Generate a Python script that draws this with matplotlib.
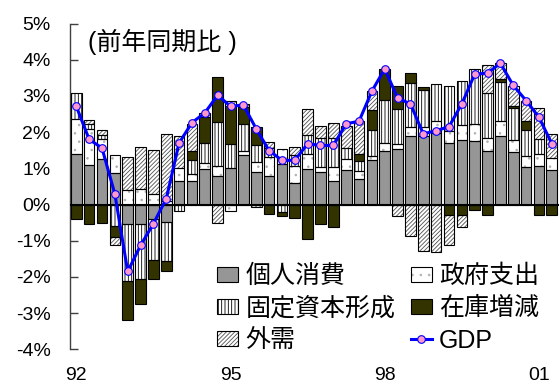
import numpy as np
import matplotlib
matplotlib.use("Agg")
import matplotlib.pyplot as plt
from matplotlib.patches import Patch
from matplotlib.lines import Line2D
from matplotlib.legend_handler import HandlerTuple

plt.rcParams['font.family'] = ['Liberation Sans', 'Noto Sans CJK JP']
plt.rcParams['hatch.linewidth'] = 0.6

# 実質GDP成長率（前年同期比）と需要項目別寄与度, 1992Q1-2001Q2
quarters = ['92Q1', '92Q2', '92Q3', '92Q4', '93Q1', '93Q2', '93Q3', '93Q4',
            '94Q1', '94Q2', '94Q3', '94Q4', '95Q1', '95Q2', '95Q3', '95Q4',
            '96Q1', '96Q2', '96Q3', '96Q4', '97Q1', '97Q2', '97Q3', '97Q4',
            '98Q1', '98Q2', '98Q3', '98Q4', '99Q1', '99Q2', '99Q3', '99Q4',
            '00Q1', '00Q2', '00Q3', '00Q4', '01Q1', '01Q2']

consumption = [1.40, 1.08, 1.27, 0.87, -0.55, -0.53, -0.40, -0.49,
               0.64, 0.65, 0.99, 0.80, 1.00, 1.36, 0.89, 0.80,
               1.12, 0.60, 0.99, 0.89, 0.66, 0.96, 0.71, 1.22,
               1.49, 1.54, 1.88, 1.88, 1.97, 1.69, 1.79, 1.75,
               1.49, 1.88, 1.45, 1.03, 1.05, 0.96]
government = [0.97, 1.00, 0.55, 0.51, 0.40, 0.43, 0.28, 0.10,
              0.37, 0.20, 0.17, 0.25, -0.18, 0.12, 0.28, 0.50,
              0.42, 0.45, 0.40, 0.14, 0.37, 0.30, 0.21, 0.11,
              0.20, 0.14, 0.26, 0.26, 0.35, 0.35, 0.40, 0.46,
              0.35, 0.44, 0.32, 0.32, 0.35, 0.33]
investment = [0.72, 0.13, 0.10, -0.60, -1.57, -1.53, -1.13, -1.08,
              -0.18, 0.39, 0.54, 1.24, 0.67, 0.74, 0.46, 0.25,
              -0.21, 0.32, 0.52, 0.80, 0.81, 0.30, 0.28, 0.74,
              1.20, 0.97, 1.22, 1.01, 1.01, 1.22, 1.22, 1.54,
              1.23, 1.06, 0.90, 0.71, 0.41, 0.00]
inventory = [-0.40, -0.55, -0.52, -0.30, -1.06, -0.68, -0.52, -0.26,
             0.00, 0.25, 0.72, 1.24, 1.04, 0.47, 0.52, -0.26,
             -0.10, -0.38, -0.95, -0.55, -0.63, 0.00, 0.20, 0.55,
             0.86, 0.62, 0.26, 0.09, 0.00, -0.28, -0.28, -0.15,
             -0.28, 0.09, 0.06, 0.26, -0.28, -0.28]
net_exports = [0.00, 0.13, 0.15, -0.21, 0.90, 1.15, 1.23, 1.85,
               0.89, 0.74, 0.10, -0.52, 0.14, 0.08, -0.07, 0.17,
               0.00, 0.21, 0.72, 0.35, 0.41, 0.62, 0.92, 0.52,
               0.00, -0.33, -0.86, -1.29, -1.32, -0.83, -0.35, 0.00,
               0.79, 0.43, 0.55, 0.55, 0.86, 0.66]
gdp = [2.71, 1.80, 1.56, 0.29, -1.85, -1.13, -0.53, 0.16,
       1.70, 2.26, 2.53, 3.02, 2.71, 2.75, 2.09, 1.49,
       1.22, 1.22, 1.68, 1.63, 1.63, 2.23, 2.30, 3.13,
       3.75, 2.94, 2.78, 1.95, 2.04, 2.15, 2.78, 3.60,
       3.63, 3.90, 3.29, 2.87, 2.41, 1.68]

tick_pos = [0, 12, 24, 36]
tick_labels = ['92', '95', '98', '01']
yticks = list(range(-4, 6))

# 系列ごとの塗り: (値, 名前, 地の色, ハッチ色, ハッチ)
series = [
    (consumption, '個人消費', '#969696', '#969696', None),
    (government, '政府支出', 'white', '#b0b0b0', '..'),
    (investment, '固定資本形成', 'white', 'black', '|||||'),
    (inventory, '在庫増減', '#333300', '#333300', None),
    (net_exports, '外需', 'white', '#505050', '////////'),
]

fig = plt.figure(figsize=(5.59, 3.83), dpi=100)
ax = fig.add_axes([70 / 559, (383 - 349.3) / 383, 489 / 559, (349.3 - 23.5) / 383])

x = np.arange(len(quarters))
width = 0.83
pos_base = np.zeros(len(x))
neg_base = np.zeros(len(x))
handles = {}
for vals, name, fc, hc, hatch in series:
    v = np.array(vals)
    base = np.where(v >= 0, pos_base, neg_base)
    m = v != 0
    ax.bar(x[m], v[m], width, bottom=base[m], color=fc, edgecolor=hc,
           hatch=hatch, linewidth=0, zorder=2)
    ax.bar(x[m], v[m], width, bottom=base[m], fill=False, edgecolor='black',
           linewidth=0.8, zorder=3)
    pos_base += np.clip(v, 0, None)
    neg_base += np.clip(v, None, 0)
    handles[name] = (Patch(facecolor=fc, edgecolor=hc, hatch=hatch, linewidth=0),
                     Patch(fill=False, edgecolor='black', linewidth=0.8))

ax.axhline(0, color='black', linewidth=1.5, zorder=4)
ax.plot(x, gdp, color='#0000ff', linewidth=2.2, marker='o', markersize=5.5,
        markerfacecolor='#ff99cc', markeredgecolor='#0000ff',
        markeredgewidth=0.8, zorder=5)
handles['GDP'] = Line2D([], [], color='#0000ff', linewidth=2.2, marker='o',
                        markersize=5.5, markerfacecolor='#ff99cc',
                        markeredgecolor='#0000ff', markeredgewidth=0.8)

ax.set_xlim(-0.49, 37.56)
ax.set_ylim(-4, 5)
ax.set_yticks(yticks)
ax.set_yticklabels([f'{t}%' for t in yticks], fontsize=14)
ax.set_xticks(tick_pos)
ax.set_xticklabels(tick_labels, fontsize=14)
ax.tick_params(axis='y', direction='in', length=6, width=1, color='#404040', pad=14)
ax.tick_params(axis='x', length=0, pad=13)
for side in ['top', 'right', 'bottom']:
    ax.spines[side].set_visible(False)
ax.spines['left'].set_color('#404040')
ax.spines['left'].set_linewidth(1)

fig.text(88 / 559, 1 - 42 / 383, '(前年同期比 )', fontsize=18, va='center', ha='left')

order = ['個人消費', '固定資本形成', '外需', '政府支出', '在庫増減', 'GDP']
ax.legend([handles[k] for k in order], order, ncol=2, fontsize=18,
          loc='upper left', bbox_to_anchor=(217 / 559, 1 - 264 / 383),
          bbox_transform=fig.transFigure, frameon=False, borderpad=0,
          borderaxespad=0, handlelength=0.84, handleheight=0.56,
          handletextpad=0.3, columnspacing=0.6, labelspacing=0.33,
          handler_map={tuple: HandlerTuple(ndivide=1, pad=0)})

fig.savefig('out.png', dpi=100)
